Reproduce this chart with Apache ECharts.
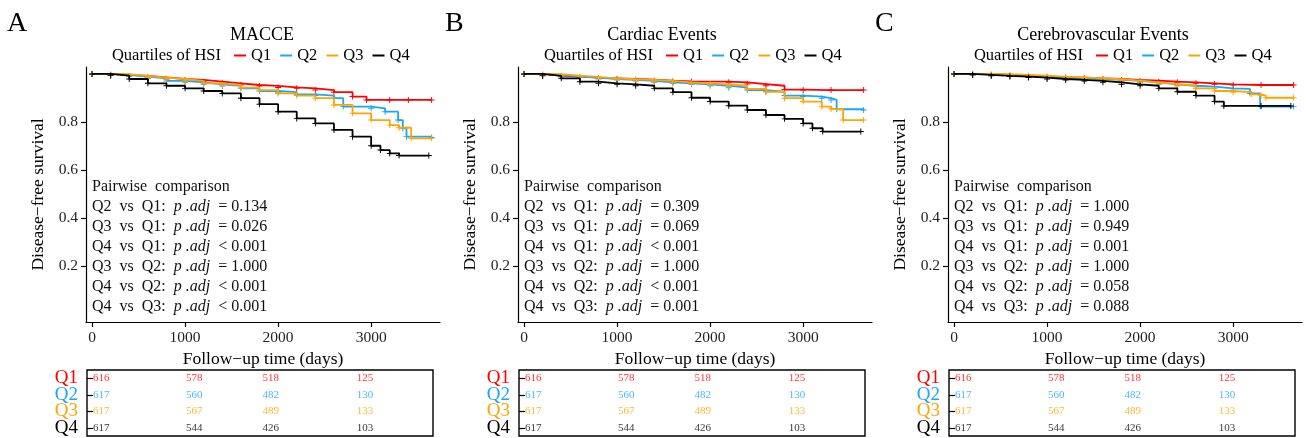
<!DOCTYPE html>
<html>
<head>
<meta charset="utf-8">
<script src="https://cdn.jsdelivr.net/npm/echarts@6/dist/echarts.min.js"></script>
<style>
  html, body { margin: 0; padding: 0; background: #fff; }
  #chart { width: 1306px; height: 438px; }
</style>
</head>
<body>
<div id="chart"></div>
<script>
// survival curves: [days, survival]
const macceQ1 = [[0,1.000],[200,0.996],[400,0.992],[600,0.986],[800,0.979],[1000,0.975],[1200,0.968],[1400,0.961],[1600,0.954],[1800,0.950],[2000,0.944],[2200,0.940],[2400,0.933],[2600,0.924],[2800,0.906],[2950,0.892],[3200,0.892],[3400,0.892],[3650,0.892]];
const macceQ2 = [[0,1.000],[200,0.996],[400,0.989],[600,0.982],[800,0.971],[1000,0.965],[1200,0.957],[1400,0.950],[1600,0.940],[1800,0.929],[2000,0.924],[2200,0.915],[2400,0.910],[2600,0.899],[2700,0.864],[3000,0.857],[3150,0.843],[3290,0.808],[3340,0.774],[3380,0.739],[3650,0.735]];
const macceQ3 = [[0,1.000],[200,0.999],[400,0.992],[600,0.985],[800,0.979],[1000,0.971],[1200,0.961],[1400,0.954],[1600,0.943],[1800,0.933],[2000,0.919],[2200,0.910],[2400,0.899],[2600,0.871],[2800,0.836],[3000,0.808],[3200,0.787],[3300,0.776],[3430,0.732],[3650,0.732]];
const macceQ4 = [[0,1.000],[200,0.993],[400,0.979],[600,0.961],[800,0.951],[1000,0.940],[1200,0.929],[1400,0.919],[1600,0.899],[1800,0.874],[2000,0.843],[2200,0.815],[2400,0.794],[2600,0.767],[2800,0.739],[3000,0.701],[3100,0.683],[3200,0.669],[3300,0.660],[3620,0.660]];

const cardiacQ1 = [[0,1.000],[200,0.993],[400,0.989],[600,0.985],[800,0.982],[1000,0.979],[1200,0.976],[1400,0.972],[1600,0.969],[1800,0.968],[2200,0.965],[2400,0.958],[2600,0.951],[2800,0.935],[3000,0.933],[3300,0.933],[3650,0.933]];
const cardiacQ2 = [[0,1.000],[200,0.996],[400,0.989],[600,0.985],[800,0.979],[1000,0.975],[1200,0.971],[1400,0.965],[1600,0.961],[1800,0.957],[2000,0.951],[2200,0.943],[2400,0.933],[2600,0.926],[2800,0.910],[3000,0.906],[3200,0.899],[3300,0.892],[3360,0.853],[3650,0.850]];
const cardiacQ3 = [[0,1.000],[200,0.999],[400,0.993],[600,0.988],[800,0.982],[1000,0.978],[1200,0.975],[1400,0.971],[1600,0.965],[1800,0.961],[2000,0.957],[2200,0.951],[2400,0.938],[2600,0.926],[2800,0.899],[3000,0.885],[3200,0.864],[3300,0.854],[3430,0.808],[3650,0.808]];
const cardiacQ4 = [[0,1.000],[200,0.992],[400,0.982],[600,0.968],[800,0.961],[1000,0.957],[1200,0.951],[1400,0.940],[1600,0.924],[1800,0.901],[2000,0.885],[2200,0.868],[2400,0.850],[2600,0.829],[2800,0.813],[3000,0.794],[3100,0.774],[3210,0.760],[3620,0.760]];

const cerebroQ1 = [[0,1.000],[200,0.999],[400,0.996],[600,0.993],[800,0.989],[1000,0.986],[1200,0.985],[1400,0.982],[1600,0.979],[1800,0.975],[2000,0.972],[2200,0.968],[2400,0.965],[2600,0.961],[2800,0.957],[3000,0.954],[3300,0.954],[3650,0.954]];
const cerebroQ2 = [[0,1.000],[200,0.999],[400,0.996],[600,0.992],[800,0.988],[1000,0.985],[1200,0.982],[1400,0.979],[1600,0.975],[1800,0.971],[2000,0.965],[2200,0.957],[2400,0.951],[2600,0.947],[2800,0.940],[3000,0.938],[3180,0.919],[3290,0.864],[3650,0.864]];
const cerebroQ3 = [[0,1.000],[400,0.999],[600,0.996],[800,0.993],[1000,0.989],[1200,0.986],[1400,0.982],[1600,0.978],[1800,0.972],[2000,0.965],[2200,0.958],[2400,0.951],[2600,0.940],[2800,0.929],[3000,0.924],[3200,0.915],[3300,0.910],[3350,0.901],[3650,0.901]];
const cerebroQ4 = [[0,1.000],[200,0.996],[400,0.992],[600,0.989],[800,0.985],[1000,0.979],[1200,0.975],[1400,0.971],[1600,0.965],[1800,0.957],[2000,0.951],[2200,0.940],[2400,0.926],[2600,0.910],[2800,0.885],[2900,0.867],[3300,0.867],[3620,0.867]];

// number at risk
const riskTimes = [0, 1000, 1825, 2840];
const riskQ1 = [616, 578, 518, 125];
const riskQ2 = [617, 560, 482, 130];
const riskQ3 = [617, 567, 489, 133];
const riskQ4 = [617, 544, 426, 103];

const groups = ['Q1', 'Q2', 'Q3', 'Q4'];
const xTicks = [0, 1000, 2000, 3000];
const yTicks = [0.2, 0.4, 0.6, 0.8];

const comparisons = ['Q2  vs  Q1:', 'Q3  vs  Q1:', 'Q4  vs  Q1:', 'Q3  vs  Q2:', 'Q4  vs  Q2:', 'Q4  vs  Q3:'];
const macceP = ['= 0.134', '= 0.026', '< 0.001', '= 1.000', '< 0.001', '< 0.001'];
const cardiacP = ['= 0.309', '= 0.069', '< 0.001', '= 1.000', '< 0.001', '= 0.001'];
const cerebroP = ['= 1.000', '= 0.949', '= 0.001', '= 1.000', '= 0.058', '= 0.088'];

const colors = ['#FF0000', '#1CA6F5', '#FFA500', '#000000'];
const FONT = '"Liberation Serif", "DejaVu Serif", serif';
const PLUS = 'path://M-0.16,-1H0.16V-0.16H1V0.16H0.16V1H-0.16V0.16H-1V-0.16H-0.16Z';

const panels = [
  { letter: 'A', letterX: 7, title: 'MACCE', titleX: 262, dx: 0, curves: [macceQ1, macceQ2, macceQ3, macceQ4], p: macceP },
  { letter: 'B', letterX: 445, title: 'Cardiac Events', titleX: 662, dx: 432, curves: [cardiacQ1, cardiacQ2, cardiacQ3, cardiacQ4], p: cardiacP },
  { letter: 'C', letterX: 875, title: 'Cerebrovascular Events', titleX: 1103, dx: 862, curves: [cerebroQ1, cerebroQ2, cerebroQ3, cerebroQ4], p: cerebroP }
];
const risks = [riskQ1, riskQ2, riskQ3, riskQ4];

const grid = [], xAxis = [], yAxis = [], series = [], legend = [], graphic = [];

const rowRich = {};
groups.forEach((g, q) => {
  rowRich[g] = { color: colors[q], fontFamily: FONT, fontSize: 19 };
});

panels.forEach((pn, i) => {
  const gp = 2 * i, gt = 2 * i + 1;
  grid.push({ left: 86 + pn.dx, top: 67, width: 354, height: 255 });
  grid.push({ left: 87 + pn.dx, top: 370, width: 346, height: 66, show: true, borderColor: '#000', borderWidth: 1.4 });

  xAxis.push({
    gridIndex: gp, type: 'value', min: -65, max: 3740,
    axisLine: { show: true, onZero: false, lineStyle: { color: '#000', width: 1.2 } },
    axisTick: { show: true, customValues: xTicks, length: 5, lineStyle: { color: '#000', width: 1.2 } },
    axisLabel: { customValues: xTicks, formatter: v => String(v), fontFamily: FONT, fontSize: 15.5, color: '#222', margin: 8 },
    splitLine: { show: false },
    name: 'Follow\u2212up time (days)', nameLocation: 'middle', nameGap: 23,
    nameTextStyle: { fontFamily: FONT, fontSize: 17.5, color: '#000' }
  });
  xAxis.push({ gridIndex: gt, type: 'value', min: -65, max: 3660, show: false });

  yAxis.push({
    gridIndex: gp, type: 'value', min: -0.033, max: 1.029,
    axisLine: { show: true, onZero: false, lineStyle: { color: '#000', width: 1.2 } },
    axisTick: { show: true, customValues: yTicks, length: 5, lineStyle: { color: '#000', width: 1.2 } },
    axisLabel: { customValues: yTicks, formatter: v => v.toFixed(1), fontFamily: FONT, fontSize: 15.5, color: '#222', margin: 8 },
    splitLine: { show: false },
    name: 'Disease\u2212free survival', nameLocation: 'middle', nameGap: 39,
    nameTextStyle: { fontFamily: FONT, fontSize: 17.5, color: '#000' }
  });
  yAxis.push({
    gridIndex: gt, type: 'category', data: groups, inverse: true,
    axisLine: { show: false },
    axisTick: { show: true, interval: 0, alignWithLabel: true, length: 6, lineStyle: { color: '#000', width: 1.2 } },
    axisLabel: { interval: 0, formatter: v => '{' + v + '|' + v + '}', rich: rowRich, margin: 9 },
    splitLine: { show: false }
  });

  pn.curves.forEach((c, q) => {
    series.push({
      type: 'line', name: groups[q], xAxisIndex: gp, yAxisIndex: gp,
      step: 'end', data: c, symbol: PLUS, symbolSize: 6, showSymbol: true, showAllSymbol: true,
      lineStyle: { color: colors[q], width: 1.8 }, itemStyle: { color: colors[q] },
      z: 2 + q, silent: true
    });
  });

  risks.forEach((r, q) => {
    series.push({
      type: 'scatter', name: groups[q] + ' at risk', xAxisIndex: gt, yAxisIndex: gt,
      symbolSize: 0, silent: true,
      data: riskTimes.map((t, k) => [t, groups[q], r[k]]),
      label: {
        show: true, position: 'right', distance: 0,
        formatter: p => String(p.data[2]),
        color: colors[q], fontFamily: FONT, fontSize: 11
      }
    });
  });

  legend.push({
    left: 234 + pn.dx, top: 47, padding: 0, data: groups, icon: 'rect',
    itemWidth: 12, itemHeight: 2, itemGap: 9, selectedMode: false,
    textStyle: { fontFamily: FONT, fontSize: 16.5, color: '#000' }
  });

  graphic.push({
    type: 'text', x: pn.letterX, y: 24,
    style: { text: pn.letter, fill: '#000', fontFamily: FONT, fontSize: 28, align: 'left', verticalAlign: 'middle' }
  });
  graphic.push({
    type: 'text', x: pn.titleX, y: 35,
    style: { text: pn.title, fill: '#000', fontFamily: FONT, fontSize: 18, align: 'center', verticalAlign: 'middle' }
  });
  graphic.push({
    type: 'text', x: 221 + pn.dx, y: 56,
    style: { text: 'Quartiles of HSI', fill: '#000', fontFamily: FONT, fontSize: 16.5, align: 'right', verticalAlign: 'middle' }
  });

  const lines = ['Pairwise  comparison'].concat(comparisons.map((c, k) => c + '  {i|p .adj}  ' + pn.p[k]));
  graphic.push({
    type: 'text', x: 92 + pn.dx, y: 177,
    style: {
      text: lines.join('\n'), fill: '#111', fontFamily: FONT, fontSize: 16, lineHeight: 19.9,
      align: 'left', verticalAlign: 'top',
      rich: { i: { fontStyle: 'italic', fontFamily: FONT, fontSize: 16, lineHeight: 19.9, fill: '#111' } }
    }
  });
});

const chart = echarts.init(document.getElementById('chart'), null, { renderer: 'canvas' });
chart.setOption({
  animation: false,
  backgroundColor: '#fff',
  grid, xAxis, yAxis, series, legend, graphic
});
</script>
</body>
</html>
